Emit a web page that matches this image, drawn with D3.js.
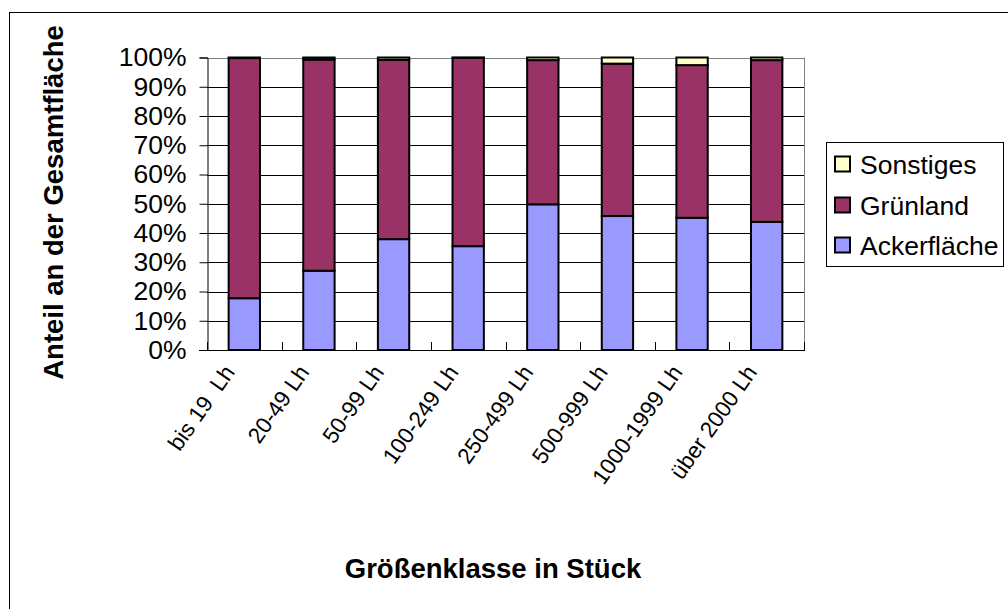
<!DOCTYPE html>
<html>
<head>
<meta charset="utf-8">
<script src="https://cdn.jsdelivr.net/npm/d3@7"></script>
<style>
  html, body { margin: 0; padding: 0; background: #fff; }
  svg { display: block; font-family: Arial, "Liberation Sans", sans-serif; }
</style>
</head>
<body>
<svg id="chart" width="1008" height="609"></svg>
<script>
const categories = ["bis 19  Lh", "20-49 Lh", "50-99 Lh", "100-249 Lh", "250-499 Lh", "500-999 Lh", "1000-1999 Lh", "über 2000 Lh"];
const ackerflaeche = [17.7, 27.1, 37.9, 35.5, 49.8, 45.8, 45.2, 43.8];
const gruenland    = [82.1, 72.2, 61.3, 64.4, 49.3, 52.1, 52.2, 55.3];
const sonstiges    = [0.2, 0.7, 0.8, 0.1, 0.9, 2.1, 2.6, 0.9];
const seriesNames  = ["Ackerfläche", "Grünland", "Sonstiges"];
const seriesColors = ["#9999FF", "#993366", "#FFFFCC"];
const yTicks = [0, 10, 20, 30, 40, 50, 60, 70, 80, 90, 100];
const yTitle = "Anteil an der Gesamtfläche";
const xTitle = "Größenklasse in Stück";

(function () {
const svg = d3.select("#chart");

// outer chart frame
svg.append("rect").attr("x", 9.5).attr("y", 12.5).attr("width", 1020).attr("height", 620)
  .attr("fill", "none").attr("stroke", "#000").attr("stroke-width", 1);

const pLeft = 207, pRight = 804, pTop = 57.5, pBottom = 350;

const x = d3.scaleBand().domain(categories).range([pLeft, pRight]).paddingInner(0.58).paddingOuter(0.29);
const y = d3.scaleLinear().domain([0, 100]).range([pBottom, pTop]);

// gridlines
svg.append("g").selectAll("line").data(yTicks.filter(t => t > 0)).join("line")
  .attr("x1", pLeft).attr("x2", pRight)
  .attr("y1", d => Math.round(y(d)) + 0.5).attr("y2", d => Math.round(y(d)) + 0.5)
  .attr("stroke", d => d === 100 ? "#808080" : "#000").attr("stroke-width", 1);
// right plot border
svg.append("line").attr("x1", pRight + 0.5).attr("x2", pRight + 0.5).attr("y1", pTop).attr("y2", pBottom)
  .attr("stroke", "#808080");

// stacked data
const rows = categories.map((c, i) => ({ cat: c, "Ackerfläche": ackerflaeche[i], "Grünland": gruenland[i], "Sonstiges": sonstiges[i] }));
const stacked = d3.stack().keys(seriesNames)(rows);

const gBars = svg.append("g");
stacked.forEach((s, si) => {
  gBars.append("g").selectAll("rect").data(s).join("rect")
    .attr("x", d => x(d.data.cat))
    .attr("width", x.bandwidth())
    .attr("y", d => y(d[1]))
    .attr("height", d => y(d[0]) - y(d[1]))
    .attr("fill", seriesColors[si])
    .attr("stroke", "#000").attr("stroke-width", 2);
});

// y axis
const yAxis = d3.axisLeft(y).tickValues(yTicks).tickFormat(d => d + "%").tickSize(8).tickPadding(13);
const gy = svg.append("g").attr("transform", `translate(${pLeft + 0.5},0)`).call(yAxis);
gy.select(".domain").attr("stroke", "#000");
gy.selectAll(".tick line").attr("stroke", "#000");
gy.selectAll(".tick text").attr("font-size", 26.5).attr("fill", "#000").attr("font-family", "Arial, 'Liberation Sans', sans-serif");

// x axis line and boundary ticks
const step = x.step();
const bounds = d3.range(categories.length + 1).map(i => i === categories.length
  ? x(categories[i - 1]) + x.bandwidth() + (step - x.bandwidth()) / 2
  : x(categories[i]) - (step - x.bandwidth()) / 2);
svg.append("line").attr("x1", pLeft - 8).attr("x2", pRight + 1).attr("y1", pBottom + 0.5).attr("y2", pBottom + 0.5).attr("stroke", "#000");
svg.append("g").selectAll("line").data(bounds).join("line")
  .attr("x1", d => Math.round(d) + 0.5).attr("x2", d => Math.round(d) + 0.5)
  .attr("y1", pBottom - 8).attr("y2", pBottom).attr("stroke", "#000");

// x labels
svg.append("g").selectAll("text").data(categories).join("text")
  .attr("transform", d => `translate(${x(d) + x.bandwidth() / 2 - 22},${pBottom + 13}) rotate(-55)`)
  .attr("text-anchor", "end").attr("dy", "0.72em")
  .attr("font-size", 22.5).attr("fill", "#000")
  .style("white-space", "pre")
  .text(d => d);

// axis titles
svg.append("text").attr("transform", `translate(63,202.5) rotate(-90)`)
  .attr("text-anchor", "middle").attr("font-size", 27.5).attr("font-weight", "bold").text(yTitle);
svg.append("text").attr("x", 493).attr("y", 578)
  .attr("text-anchor", "middle").attr("font-size", 27.5).attr("font-weight", "bold").text(xTitle);

// legend
const lg = svg.append("g");
lg.append("rect").attr("x", 826.5).attr("y", 142.5).attr("width", 177).attr("height", 124)
  .attr("fill", "#fff").attr("stroke", "#000").attr("stroke-width", 1);
const legendOrder = [2, 1, 0];
const legendY = [164, 205, 245];
legendOrder.forEach((si, k) => {
  lg.append("rect").attr("x", 835).attr("y", legendY[k] - 7.5).attr("width", 15).attr("height", 15)
    .attr("fill", seriesColors[si]).attr("stroke", "#000").attr("stroke-width", 2);
  lg.append("text").attr("x", 860).attr("y", legendY[k]).attr("dy", "0.36em")
    .attr("font-size", 26.5).attr("fill", "#000").text(seriesNames[si]);
});
})();
</script>
</body>
</html>
